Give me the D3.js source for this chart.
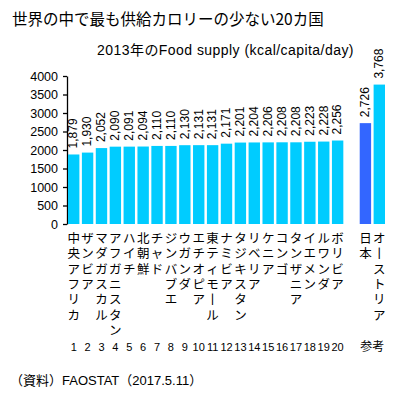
<!DOCTYPE html>
<html><head><meta charset="utf-8">
<script src="https://cdn.jsdelivr.net/npm/d3@7"></script>
<style>
body{margin:0;background:#fff;}
svg{display:block;}
</style></head>
<body>
<svg id="c" width="415" height="395"></svg>
<script>
const countries = ["中央アフリカ","ザンビア","マダガスカル","アフガニスタン","ハイチ","北朝鮮","チャド","ジンバブエ","ウガンダ","エチオピア","東ティモール","ナミビア","タジキスタン","リベリア","ケニア","コンゴ","タンザニア","イエメン","ルワンダ","ボリビア"];
const values = [1879,1930,2052,2090,2091,2094,2110,2110,2130,2131,2131,2171,2201,2204,2206,2208,2208,2223,2228,2256];
const ranks = ["1","2","3","4","5","6","7","8","9","10","11","12","13","14","15","16","17","18","19","20"];
const refCountries = ["日本","オーストリア"];
const refValues = [2726,3768];
const refLabel = "参考";
const yTicks = [0,500,1000,1500,2000,2500,3000,3500,4000];
const title = "世界の中で最も供給カロリーの少ない20カ国";
const subtitle = "2013年のFood supply (kcal/capita/day)";
const source = "（資料）FAOSTAT（2017.5.11）";

const svg = d3.select("#c");
const data = countries.map((c,i)=>({key:"c"+i,name:c,value:values[i],rank:ranks[i],ref:false}))
  .concat(refCountries.map((c,i)=>({key:"r"+i,name:c,value:refValues[i],rank:null,ref:true,idx:i})));
const domain = data.slice(0,20).map(d=>d.key).concat(["gap"]).concat(data.slice(20).map(d=>d.key));

const x = d3.scaleBand().domain(domain).range([68,385]).paddingInner(0.18).paddingOuter(0).align(0);
const y = d3.scaleLinear().domain([0,4000]).range([224,76]);

const CJK = "'Noto Sans CJK JP','Noto Sans CJK SC',sans-serif";
const SANS = "'Liberation Sans',Arial,'Noto Sans CJK JP',sans-serif";

svg.append("text").attr("x",12).attr("y",25).attr("font-family",CJK).attr("font-size",15.5)
  .attr("fill","#000").text(title);
svg.append("text").attr("x",97).attr("y",55).attr("font-family",SANS).attr("font-size",14)
  .style("letter-spacing","0.45px").attr("fill","#000").text(subtitle);

// y axis
const yAxis = d3.axisLeft(y).tickValues(yTicks).tickFormat(d3.format("d")).tickSize(4).tickSizeOuter(0).tickPadding(5);
const ga = svg.append("g").attr("transform","translate(67,0)").call(yAxis);
ga.select(".domain").attr("stroke","#000").attr("stroke-width",1.3);
ga.selectAll(".tick line").attr("stroke","#000").attr("stroke-width",1.3);
ga.selectAll(".tick text").attr("font-family",SANS).attr("font-size",12.5).attr("fill","#000");

// bars
svg.append("g").selectAll("rect").data(data).join("rect")
  .attr("x",d=>x(d.key)).attr("width",x.bandwidth())
  .attr("y",d=>y(d.value)).attr("height",d=>y(0)-y(d.value))
  .attr("fill",d=>d.ref && d.idx===0 ? "#3366FF" : "#00CCFF");

// value labels
svg.append("g").selectAll("text").data(data).join("text")
  .attr("transform",d=>`translate(${x(d.key)+x.bandwidth()/2+3.8},${y(d.value)-6}) rotate(-90)`)
  .attr("font-family","'Liberation Sans Narrow','Liberation Sans',Arial,sans-serif")
  .attr("font-size",12).attr("fill","#000")
  .text(d=>d3.format(",")(d.value));

// vertical country labels: one character per text, stacked
const gl = svg.append("g");
data.forEach(d=>{
  const chars = Array.from(d.name.replace(/ー/g,"丨"));
  gl.append("g").selectAll("text").data(chars).join("text")
    .attr("x",x(d.key)+x.bandwidth()/2)
    .attr("y",(c,i)=>243+i*15.3)
    .attr("text-anchor","middle")
    .attr("font-family",CJK).attr("font-size",12.5).attr("fill","#000")
    .text(c=>c);
});

// rank numbers
svg.append("g").selectAll("text").data(data.filter(d=>!d.ref)).join("text")
  .attr("x",d=>x(d.key)+x.bandwidth()/2).attr("y",351)
  .attr("text-anchor","middle").attr("font-family",SANS).attr("font-size",11).attr("fill","#000")
  .text(d=>d.rank);
const refs = data.filter(d=>d.ref);
svg.append("text")
  .attr("x",(x(refs[0].key)+x(refs[1].key)+x.bandwidth())/2).attr("y",351)
  .attr("text-anchor","middle").attr("font-family",CJK).attr("font-size",12).attr("fill","#000")
  .text(refLabel);

svg.append("text").attr("x",10).attr("y",385).attr("font-family",SANS).attr("font-size",13)
  .attr("fill","#000").text(source);
</script>
</body></html>
